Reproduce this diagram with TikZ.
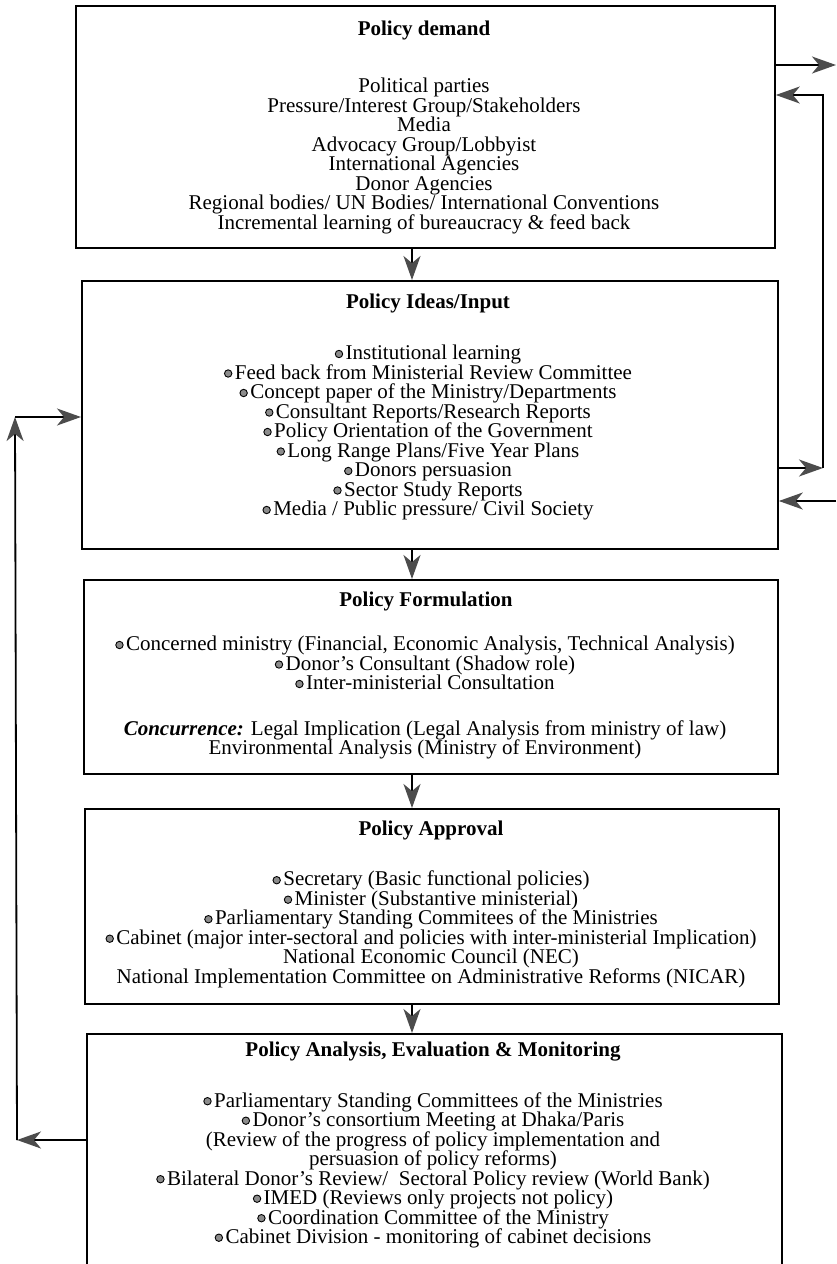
\documentclass[tikz,border=0pt]{standalone}
\usepackage{fontspec}
\setmainfont{Liberation Serif}
\usetikzlibrary{arrows.meta}

% small shaded bullet used in the item lists
\newcommand{\itm}{\tikz[baseline=-0.6ex]\draw[line width=0.9pt,fill=black!45] (0,0) circle (3.7pt);\hspace{2.5pt}}

\tikzset{
  stagebox/.style={draw, line width=1.8pt, rectangle, inner sep=0pt, anchor=north west},
  head/.style={font=\fontsize{21}{19.5}\selectfont\bfseries, inner sep=0pt},
  body/.style={font=\fontsize{21}{19.5}\selectfont, align=center, inner sep=0pt, anchor=north},
  flow/.style={line width=1.8pt, -{Stealth[length=24pt,width=17pt,inset=7pt,color=black!70]}},
}

\begin{document}
\begin{tikzpicture}[x=1pt,y=-1pt]
\useasboundingbox (0,0) rectangle (836,1264);

% the five stages
\node[stagebox, minimum width=699pt, minimum height=242pt] (b1) at (75,5) {};
\node[stagebox, minimum width=696pt, minimum height=268pt] (b2) at (81,280) {};
\node[stagebox, minimum width=694pt, minimum height=194pt] (b3) at (83,579) {};
\node[stagebox, minimum width=694pt, minimum height=195pt] (b4) at (84,808) {};
\node[stagebox, minimum width=695pt, minimum height=236pt] (b5) at (86,1033) {};

% stage texts
\node[head] (h1) at (424,30) {Policy demand};
\node[body] (t1) at (424,78) {Political parties\\
Pressure/Interest Group/Stakeholders\\
Media\\
Advocacy Group/Lobbyist\\
International Agencies\\
Donor Agencies\\
Regional bodies/ UN Bodies/ International Conventions\\
Incremental learning of bureaucracy \& feed back};

\node[head] (h2) at (428,303) {Policy Ideas/Input};
\node[body] (t2) at (428,345) {\itm Institutional learning\\
\itm Feed back from Ministerial Review Committee\\
\itm Concept paper of the Ministry/Departments\\
\itm Consultant Reports/Research Reports\\
\itm Policy Orientation of the Government\\
\itm Long Range Plans/Five Year Plans\\
\itm Donors persuasion\\
\itm Sector Study Reports\\
\itm Media / Public pressure/ Civil Society};

\node[head] (h3) at (426,601) {Policy Formulation};
\node[body] (t3) at (425,636) {\itm Concerned ministry (Financial, Economic Analysis, Technical Analysis)\\
\itm Donor's Consultant (Shadow role)\\
\itm Inter-ministerial Consultation\\[26pt]
\textbf{\textit{Concurrence:}} Legal Implication (Legal Analysis from ministry of law)\\
Environmental Analysis (Ministry of Environment)};

\node[head] (h4) at (431,830) {Policy Approval};
\node[body] (t4) at (431,871) {\itm Secretary (Basic functional policies)\\
\itm Minister (Substantive ministerial)\\
\itm Parliamentary Standing Commitees of the Ministries\\
\itm Cabinet (major inter-sectoral and policies with inter-ministerial Implication)\\
National Economic Council (NEC)\\
National Implementation Committee on Administrative Reforms (NICAR)};

\node[head] (h5) at (433,1052) {Policy Analysis, Evaluation \& Monitoring};
\node[body] (t5) at (433,1092) {\itm Parliamentary Standing Committees of the Ministries\\
\itm Donor's consortium Meeting at Dhaka/Paris\\
(Review of the progress of policy implementation and\\
persuasion of policy reforms)\\
\itm Bilateral Donor's Review/\ \ Sectoral Policy review (World Bank)\\
\itm IMED (Reviews only projects not policy)\\
\itm Coordination Committee of the Ministry\\
\itm Cabinet Division - monitoring of cabinet decisions};

% main downward flow
\coordinate (ax) at (412,0);
\draw[flow] (b1.south -| ax) -- (b2.north -| ax);
\draw[flow] (b2.south -| ax) -- (b3.north -| ax);
\draw[flow] (b3.south -| ax) -- (b4.north -| ax);
\draw[flow] (b4.south -| ax) -- (b5.north -| ax);

% right-hand links
\coordinate (out1) at (836,65);
\coordinate (fbTop) at (823,95);
\coordinate (fbBot) at (823,468);
\coordinate (in2) at (836,501);
\draw[flow] (b1.east |- out1) -- (out1);
\draw[flow] (b2.east |- fbBot) -- (fbBot);
\draw[flow] (fbBot) -- (fbTop) -- (b1.east |- fbTop);
\draw[flow] (in2) -- (b2.east |- in2);

% left-hand feedback loop
\coordinate (lpBot) at (17,1140);
\coordinate (lpTop) at (15,417);
\draw[flow] (b5.west |- lpBot) -- (lpBot);
\draw[flow] (lpBot) -- (lpTop);
\draw[flow] (lpTop) -- (b2.west |- lpTop);
\end{tikzpicture}
\end{document}
